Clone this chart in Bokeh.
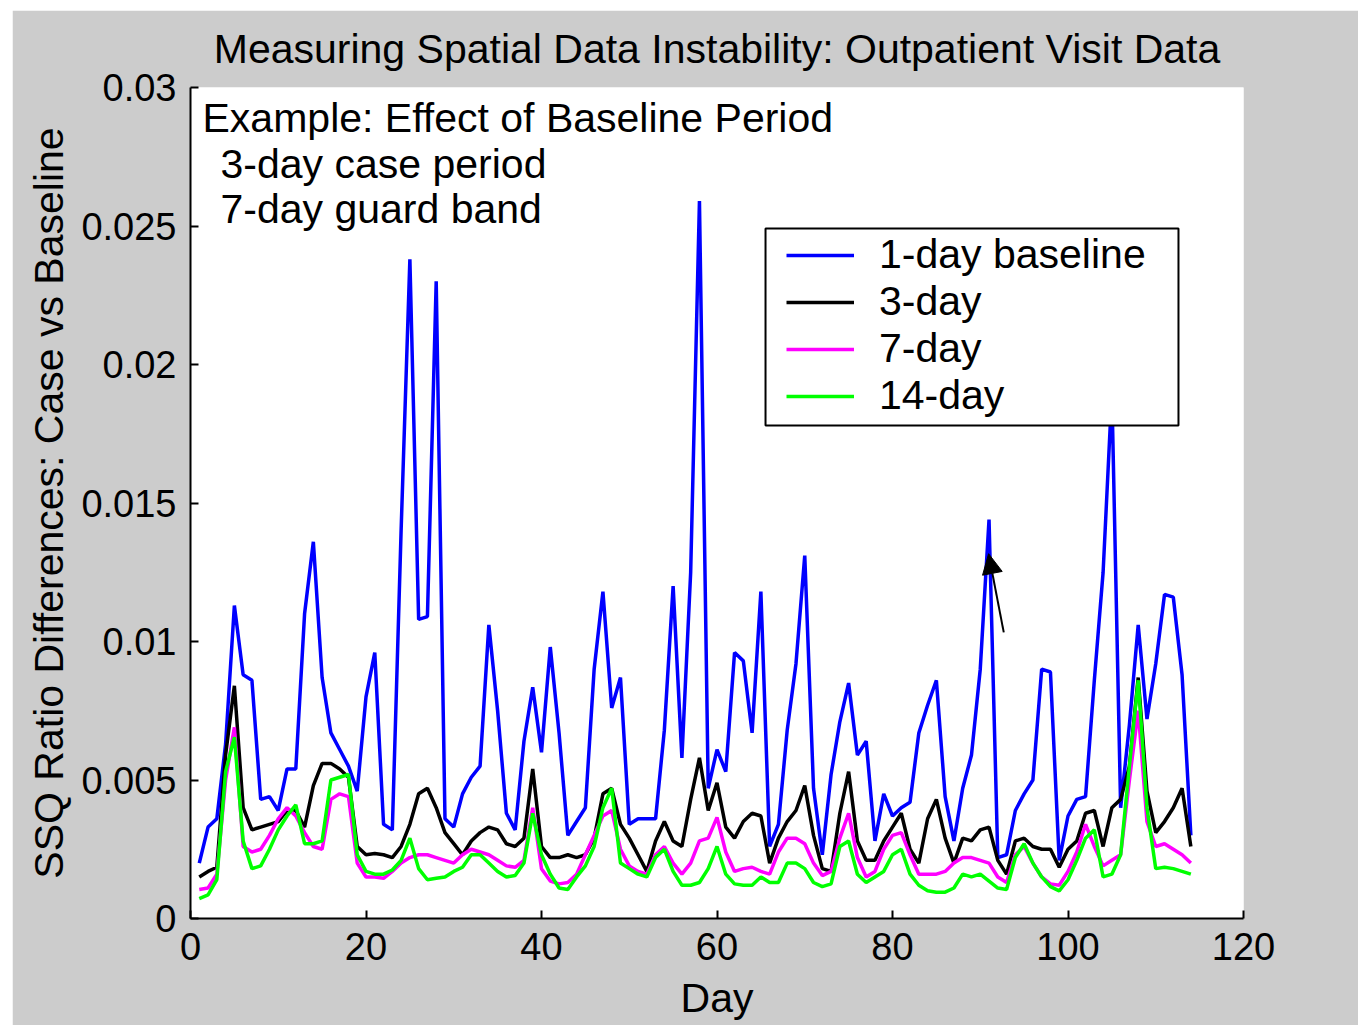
from bokeh.plotting import figure
from bokeh.models import (Range1d, Legend, LegendItem, Arrow, NormalHead, Label,
                          FixedTicker, ColumnDataSource, BoxAnnotation)
from bokeh.embed import file_html
from bokeh.resources import INLINE

# ---------------- data (values in units of 1e-3) ----------------
days = list(range(1, 115))

baseline_1day = [
    2.0, 3.3, 3.6, 6.3, 11.3, 8.8, 8.6, 4.3, 4.4, 3.9,
    5.4, 5.4, 11.0, 13.6, 8.7, 6.7, 6.1, 5.5, 4.6, 8.0,
    9.6, 3.4, 3.2, 14.0, 23.8, 10.8, 10.9, 23.0, 3.6, 3.3,
    4.5, 5.1, 5.5, 10.6, 7.5, 3.8, 3.2, 6.4, 8.35, 6.0,
    9.8, 6.7, 3.0, 3.5, 4.0, 9.0, 11.8, 7.6, 8.7, 3.4,
    3.6, 3.6, 3.6, 6.8, 12.0, 5.8, 12.5, 25.9, 4.7, 6.1,
    5.3, 9.6, 9.3, 6.7, 11.8, 2.6, 3.4, 6.8, 9.2, 13.1,
    4.7, 2.3, 5.2, 7.1, 8.5, 5.9, 6.4, 2.8, 4.5, 3.7,
    4.0, 4.2, 6.7, 7.7, 8.6, 4.4, 2.8, 4.7, 5.9, 9.0,
    14.4, 2.2, 2.3, 3.9, 4.5, 5.0, 9.0, 8.9, 2.1, 3.7,
    4.3, 4.4, 8.6, 12.5, 19.0, 4.0, 7.0, 10.6, 7.2, 9.2,
    11.7, 11.6, 8.8, 3.0,
]

baseline_3day = [
    1.5, 1.7, 1.85, 5.9, 8.4, 4.0, 3.2, 3.3, 3.4, 3.5,
    3.9, 3.9, 3.3, 4.8, 5.6, 5.6, 5.4, 5.1, 2.6, 2.3,
    2.35, 2.3, 2.2, 2.6, 3.4, 4.5, 4.7, 4.0, 3.1, 2.7,
    2.3, 2.8, 3.1, 3.3, 3.2, 2.7, 2.6, 2.9, 5.4, 2.6,
    2.2, 2.2, 2.3, 2.2, 2.3, 2.9, 4.5, 4.7, 3.4, 2.9,
    2.3, 1.7, 2.8, 3.5, 2.8, 2.6, 4.3, 5.8, 3.9, 4.9,
    3.3, 2.9, 3.5, 3.8, 3.7, 2.0, 2.9, 3.5, 3.9, 4.8,
    3.0, 1.8, 1.7, 3.8, 5.3, 2.8, 2.1, 2.1, 2.8, 3.3,
    3.8, 2.5, 2.0, 3.6, 4.3, 2.9, 2.0, 2.9, 2.8, 3.2,
    3.3, 2.1, 1.6, 2.8, 2.9, 2.6, 2.5, 2.5, 1.85, 2.5,
    2.8, 3.8, 3.9, 2.6, 4.0, 4.3, 5.5, 8.7, 4.6, 3.1,
    3.5, 4.0, 4.7, 2.6,
]

baseline_7day = [
    1.05, 1.1, 1.6, 5.0, 6.9, 2.6, 2.4, 2.5, 3.0, 3.6,
    4.0, 3.7, 3.1, 2.6, 2.5, 4.3, 4.5, 4.4, 2.0, 1.5,
    1.5, 1.45, 1.7, 2.0, 2.2, 2.3, 2.3, 2.2, 2.1, 2.0,
    2.3, 2.5, 2.4, 2.3, 2.1, 1.9, 1.85, 2.1, 4.0, 1.8,
    1.35, 1.25, 1.3, 1.6, 2.3, 3.0, 3.7, 3.9, 2.5, 1.9,
    1.7, 1.6, 2.3, 2.6, 2.0, 1.6, 2.0, 2.8, 2.9, 3.65,
    2.4, 1.7, 1.8, 1.85, 1.7, 1.6, 2.4, 2.9, 2.9, 2.7,
    2.0, 1.55, 1.7, 2.9, 3.8, 2.2, 1.5, 1.7, 2.5, 3.0,
    3.1, 2.3, 1.6, 1.6, 1.6, 1.7, 2.0, 2.2, 2.2, 2.1,
    2.0, 1.5, 1.3, 2.3, 2.6, 2.0, 1.5, 1.25, 1.2, 1.7,
    2.4, 3.4, 2.6, 1.9, 2.1, 2.3, 5.0, 7.5, 3.5, 2.6,
    2.7, 2.5, 2.3, 2.0,
]

baseline_14day = [
    0.72, 0.85, 1.4, 5.3, 6.55, 2.8, 1.8, 1.9, 2.5, 3.2,
    3.7, 4.1, 2.7, 2.7, 2.8, 5.0, 5.1, 5.2, 2.3, 1.7,
    1.6, 1.6, 1.75, 2.1, 2.9, 1.8, 1.4, 1.45, 1.5, 1.7,
    1.85, 2.3, 2.3, 2.0, 1.7, 1.5, 1.55, 2.0, 3.8, 2.3,
    1.6, 1.1, 1.05, 1.5, 1.9, 2.6, 4.0, 4.7, 2.0, 1.8,
    1.6, 1.5, 2.2, 2.5, 1.7, 1.2, 1.2, 1.3, 1.8, 2.6,
    1.6, 1.25, 1.2, 1.2, 1.5, 1.3, 1.3, 2.0, 2.0, 1.8,
    1.3, 1.15, 1.25, 2.6, 2.8, 1.6, 1.3, 1.5, 1.7, 2.3,
    2.5, 1.6, 1.2, 1.0, 0.95, 0.95, 1.1, 1.6, 1.5, 1.6,
    1.35, 1.1, 1.05, 2.2, 2.7, 2.0, 1.5, 1.15, 1.0, 1.4,
    2.1, 2.9, 3.2, 1.5, 1.6, 2.3, 5.5, 8.6, 4.0, 1.8,
    1.85, 1.8, 1.7, 1.6,
]

series_names = ["1-day baseline", "3-day", "7-day", "14-day"]
series_values = [baseline_1day, baseline_3day, baseline_7day, baseline_14day]
series_colors = ["#0000ff", "#000000", "#ff00ff", "#00ff00"]

x_ticks = [0, 20, 40, 60, 80, 100, 120]
y_ticks = [0, 0.005, 0.01, 0.015, 0.02, 0.025, 0.03]
y_tick_labels = ["0", "0.005", "0.01", "0.015", "0.02", "0.025", "0.03"]

TITLE = "Measuring Spatial Data Instability: Outpatient Visit Data"
UNIT = 1e-3
FONT = "Liberation Sans"

# ---------------- figure ----------------
p = figure(width=1346, height=1015, output_backend="svg", toolbar_location=None,
           x_range=Range1d(0, 120), y_range=Range1d(0, 0.03),
           min_border_left=178, min_border_right=115, min_border_top=77,
           min_border_bottom=107,
           background_fill_color="white", border_fill_color="#cccccc",
           outline_line_color=None, title=TITLE)
p.margin = (10, 0, 0, 12)

p.title.align = "center"
p.title.vertical_align = "top"
p.title.text_font = FONT
p.title.text_font_size = "41px"
p.title.text_font_style = "normal"
p.title.text_color = "black"
p.title.standoff = 27

p.xgrid.visible = False
p.ygrid.visible = False

for ax in (p.xaxis[0], p.yaxis[0]):
    ax.axis_line_color = "black"
    ax.axis_line_width = 2
    ax.major_tick_line_color = "black"
    ax.major_tick_line_width = 2
    ax.major_tick_in = 8
    ax.major_tick_out = 0
    ax.minor_tick_line_color = None
    ax.major_label_text_font = FONT
    ax.major_label_text_font_size = "38px"
    ax.major_label_text_color = "black"
    ax.axis_label_text_font = FONT
    ax.axis_label_text_font_size = "41px"
    ax.axis_label_text_font_style = "normal"
    ax.axis_label_text_color = "black"

p.xaxis.ticker = FixedTicker(ticks=x_ticks)
p.yaxis.ticker = FixedTicker(ticks=y_ticks)
p.yaxis.major_label_overrides = {t: s for t, s in zip(y_ticks, y_tick_labels)}
p.xaxis.axis_label = "Day"
p.yaxis.axis_label = "SSQ Ratio Differences: Case vs Baseline"
p.xaxis.major_label_standoff = 14
p.xaxis.axis_label_standoff = 12
p.yaxis.major_label_standoff = 14
p.yaxis.axis_label_standoff = 6

# ---------------- lines ----------------
items = []
for name, vals, col in zip(series_names, series_values, series_colors):
    src = ColumnDataSource(dict(day=days, value=[v * UNIT for v in vals]))
    r = p.line("day", "value", source=src, line_color=col, line_width=3.5)
    items.append(LegendItem(label=name, renderers=[r]))

# legend frame (drawn as a box so its padding can differ per side)
p.add_layout(BoxAnnotation(left=65.53, right=112.59, bottom=0.0178, top=0.02491,
                           fill_color="white", fill_alpha=1.0,
                           line_color="black", line_width=2, line_alpha=1.0))

legend = Legend(items=items, location=(596, 499), padding=5, spacing=0,
                margin=0, glyph_width=68, glyph_height=44, label_height=44,
                label_width=280, label_standoff=25,
                label_text_font=FONT, label_text_font_size="41px",
                label_text_color="black",
                border_line_color=None,
                background_fill_alpha=0.0)
p.add_layout(legend)

# ---------------- annotations ----------------
notes = [("Example: Effect of Baseline Period", 1.37, 0.02891),
         ("3-day case period", 3.42, 0.02725),
         ("7-day guard band", 3.42, 0.02562)]
for txt, nx, ny in notes:
    p.add_layout(Label(x=nx, y=ny, text=txt, text_font=FONT,
                       text_font_size="41px", text_color="black",
                       text_baseline="alphabetic", text_align="left"))

p.add_layout(Arrow(end=NormalHead(size=20, fill_color="black", line_color="black"),
                   x_start=92.68, y_start=0.01033, x_end=90.95, y_end=0.01317,
                   line_color="black", line_width=2))

open("out.html", "w").write(file_html(p, INLINE))
